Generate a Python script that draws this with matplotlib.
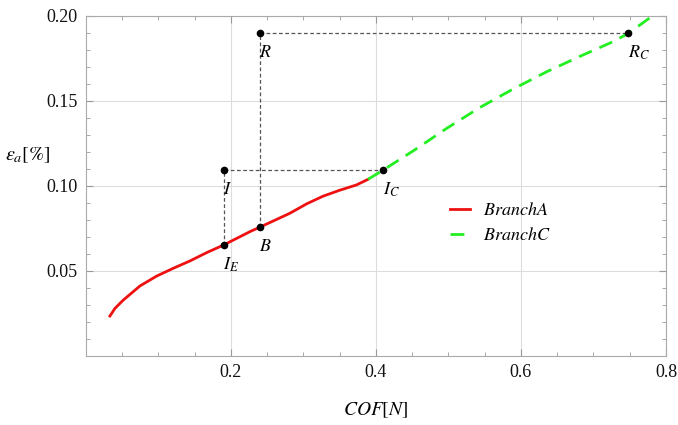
import matplotlib
matplotlib.use("Agg")
import matplotlib.pyplot as plt
from matplotlib.ticker import MultipleLocator

plt.rcParams['font.family'] = ['Liberation Serif', 'DejaVu Serif']
plt.rcParams['mathtext.fontset'] = 'stix'

# branch A (solid red) and branch C (dashed green)
branch_a_x = [0.033, 0.040, 0.0515, 0.0745, 0.0975, 0.1205, 0.1434, 0.1665, 0.19,
              0.226, 0.241, 0.281, 0.3044, 0.327, 0.350, 0.373, 0.389]
branch_a_y = [0.0235, 0.0280, 0.0329, 0.0412, 0.0470, 0.0516, 0.0559, 0.0608, 0.0653,
              0.0731, 0.0760, 0.0839, 0.0895, 0.0940, 0.0975, 0.1006, 0.1039]
branch_c_x = [0.389, 0.41, 0.4515, 0.4975, 0.5434, 0.5894, 0.6355, 0.681, 0.727, 0.748, 0.778]
branch_c_y = [0.1039, 0.1094, 0.1207, 0.1339, 0.1462, 0.1571, 0.1672, 0.1762, 0.1849, 0.1898, 0.1990]

# labelled points
pt_names = ['I_E', 'B', 'I', 'I_C', 'R', 'R_C']
pt_x = [0.19, 0.24, 0.19, 0.41, 0.24, 0.748]
pt_y = [0.0653, 0.0760, 0.1094, 0.1094, 0.1898, 0.1898]

# dashed guide paths: I_E -> I -> I_C  and  B -> R -> R_C
guide1 = ['I_E', 'I', 'I_C']
guide2 = ['B', 'R', 'R_C']

fig = plt.figure(figsize=(6.78, 4.25), dpi=100)
ax = fig.add_axes([0.1268, 0.1624, 0.8555, 0.80])

for g in (guide1, guide2):
    xs = [pt_x[pt_names.index(n)] for n in g]
    ys = [pt_y[pt_names.index(n)] for n in g]
    ax.plot(xs, ys, color='#555555', lw=0.9, dashes=(3, 2), zorder=2)

ax.plot(branch_a_x, branch_a_y, color='#ee1111', lw=2, label='$BranchA$', zorder=3)
ax.plot(branch_c_x, branch_c_y, color='#22ee22', lw=2, dashes=(5, 3), label='$BranchC$', zorder=3)

ax.plot(pt_x, pt_y, 'o', color='black', ms=4.5, zorder=4)
for n, x, y in zip(pt_names, pt_x, pt_y):
    ax.annotate('$%s$' % n, (x, y), xytext=(-0.5, -14), textcoords='offset points',
                ha='left', va='center', fontsize=13)

ax.set_xlim(0, 0.8)
ax.set_ylim(0, 0.2)
ax.set_xticks([0.2, 0.4, 0.6, 0.8])
ax.set_xticklabels(['0.2', '0.4', '0.6', '0.8'])
ax.set_yticks([0.05, 0.10, 0.15, 0.20])
ax.set_yticklabels(['0.05', '0.10', '0.15', '0.20'])
ax.xaxis.set_minor_locator(MultipleLocator(0.05))
ax.yaxis.set_minor_locator(MultipleLocator(0.01))
ax.tick_params(which='both', direction='in', top=True, right=True, color='#999999',
               labelsize=13, labelcolor='#111111')
ax.tick_params(which='major', length=5, width=0.8, pad=6)
ax.tick_params(which='minor', length=3, width=0.6)
for s in ax.spines.values():
    s.set_color('#aaaaaa')
    s.set_linewidth(0.8)
ax.grid(True, which='major', color='#dddddd', lw=0.8)
ax.set_axisbelow(True)

ax.set_xlabel('$COF[N]$', fontsize=14, va='center')
ax.xaxis.set_label_coords(0.5, -0.159)
ax.set_ylabel(r'$\varepsilon_a[\%]$', fontsize=14.5, rotation=0, va='center', ha='center')
ax.yaxis.set_label_coords(-0.1, 0.59)

ax.legend(loc='upper left', bbox_to_anchor=(0.6, 0.50), frameon=False, fontsize=13,
          handlelength=1.1, handletextpad=0.7, labelspacing=0.45)

fig.savefig('out.png', dpi=100)
